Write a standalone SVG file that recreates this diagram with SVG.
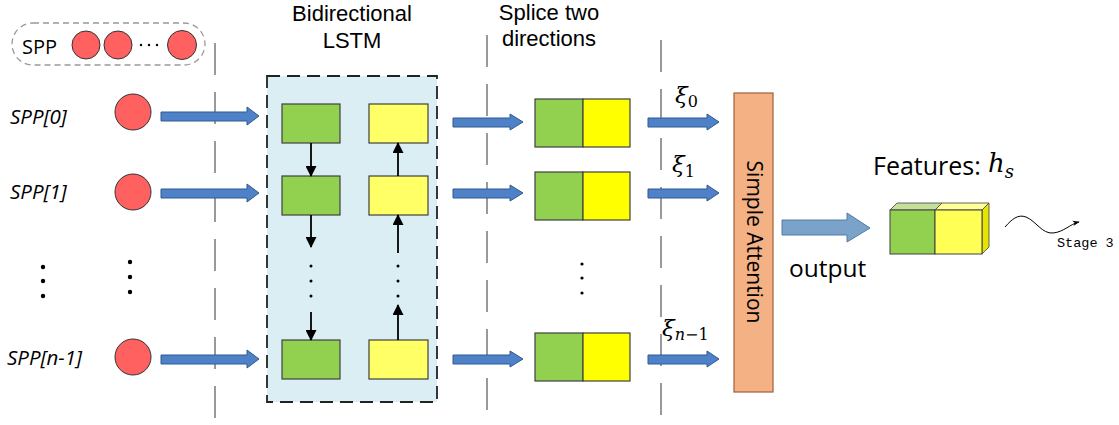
<svg xmlns="http://www.w3.org/2000/svg" width="1119" height="425" viewBox="0 0 1119 425">
<defs>
<style>
.lbl{font-family:"Open Sans","Liberation Sans",sans-serif;fill:#000}
.hdr{font-family:"Liberation Sans",Arial,sans-serif;fill:#000;font-size:22px}
.it{font-style:italic}
.math{font-family:"DejaVu Serif","Liberation Serif",serif;fill:#000}
.sep{stroke:#999;stroke-width:2;stroke-dasharray:32 17;fill:none}
.red{fill:#FF6161;stroke:#333;stroke-width:1}
.grn{fill:#92D050;stroke:#404040;stroke-width:1.2}
.yl1{fill:#FFFF66;stroke:#404040;stroke-width:1.2}
.yl2{fill:#FFFF00;stroke:#404040;stroke-width:1.2}
.barr{fill:#4F81C9;stroke:#2F5A8E;stroke-width:1}
.dot{fill:#000}
.vline{stroke:#000;stroke-width:1.8;fill:none}
</style>
<marker id="ah" viewBox="0 0 10 10" refX="9" refY="5" markerWidth="12" markerHeight="11" markerUnits="userSpaceOnUse" orient="auto">
<path d="M0,0 L10,5 L0,10 z" fill="#000"/>
</marker>
<marker id="ahs" viewBox="0 0 10 10" refX="9" refY="5" markerWidth="7" markerHeight="7" markerUnits="userSpaceOnUse" orient="auto">
<path d="M0,1 L10,5 L0,9 L3,5 z" fill="#000"/>
</marker>
</defs>
<rect width="1119" height="425" fill="#fff"/>

<!-- separators -->
<g id="separators">
<line class="sep" x1="215" y1="43" x2="215" y2="420"/>
<line class="sep" x1="487" y1="35" x2="487" y2="415"/>
<line class="sep" x1="661" y1="40" x2="661" y2="418"/>
</g>

<!-- headers -->
<g id="headers">
<text class="hdr" x="352" y="21" text-anchor="middle">Bidirectional</text>
<text class="hdr" x="352" y="48" text-anchor="middle">LSTM</text>
<text class="hdr" x="549" y="20" text-anchor="middle">Splice two</text>
<text class="hdr" x="549" y="46" text-anchor="middle">directions</text>
</g>

<!-- SPP legend -->
<g id="spp-legend">
<rect x="12" y="23" width="193" height="42" rx="21" ry="21" fill="none" stroke="#999" stroke-width="1.3" stroke-dasharray="6 4"/>
<text class="lbl" x="22" y="54" font-size="20">SPP</text>
<circle class="red" cx="86" cy="45" r="14"/>
<circle class="red" cx="118" cy="45" r="14"/>
<circle class="dot" cx="141" cy="45" r="1.2"/>
<circle class="dot" cx="149" cy="45" r="1.2"/>
<circle class="dot" cx="157" cy="45" r="1.2"/>
<circle class="red" cx="182" cy="45" r="14.5"/>
</g>

<!-- inputs -->
<g id="input-0">
<text class="lbl it" x="10" y="124" font-size="20.5">SPP[0]</text>
<circle class="red" cx="133" cy="112" r="18"/>
</g>
<g id="input-1">
<text class="lbl it" x="10" y="199" font-size="20.5">SPP[1]</text>
<circle class="red" cx="133" cy="192" r="18"/>
</g>
<g id="input-ellipsis">
<circle class="dot" cx="43" cy="267" r="2.2"/>
<circle class="dot" cx="43" cy="281" r="2.2"/>
<circle class="dot" cx="43" cy="296" r="2.2"/>
<circle class="dot" cx="130" cy="262" r="2.2"/>
<circle class="dot" cx="130" cy="277" r="2.2"/>
<circle class="dot" cx="130" cy="292" r="2.2"/>
</g>
<g id="input-n-1">
<text class="lbl it" x="7" y="365" font-size="20.5">SPP[n-1]</text>
<circle class="red" cx="133" cy="357" r="18"/>
</g>

<!-- LSTM block -->
<g id="lstm">
<rect x="267" y="76" width="170" height="326" fill="#DAEEF3" stroke="#222" stroke-width="1.8" stroke-dasharray="13 7"/>
<rect class="grn" x="282" y="104" width="58" height="39"/>
<rect class="yl1" x="369" y="104" width="59" height="39"/>
<rect class="grn" x="282" y="176" width="58" height="39"/>
<rect class="yl1" x="369" y="176" width="59" height="39"/>
<rect class="grn" x="282" y="340" width="58" height="39"/>
<rect class="yl1" x="369" y="340" width="59" height="39"/>
<circle class="dot" cx="311" cy="266" r="1.5"/>
<circle class="dot" cx="311" cy="281" r="1.5"/>
<circle class="dot" cx="311" cy="296" r="1.5"/>
<circle class="dot" cx="398" cy="266" r="1.5"/>
<circle class="dot" cx="398" cy="281" r="1.5"/>
<circle class="dot" cx="398" cy="296" r="1.5"/>
</g>

<!-- splice blocks -->
<g id="splice-0">
<rect class="grn" x="535" y="99" width="48" height="48"/>
<rect class="yl2" x="583" y="99" width="47" height="48"/>
</g>
<g id="splice-1">
<rect class="grn" x="535" y="172" width="48" height="48"/>
<rect class="yl2" x="583" y="172" width="47" height="48"/>
</g>
<g id="splice-ellipsis">
<circle class="dot" cx="582" cy="264" r="1.6"/>
<circle class="dot" cx="582" cy="278" r="1.6"/>
<circle class="dot" cx="582" cy="293" r="1.6"/>
</g>
<g id="splice-n-1">
<rect class="grn" x="535" y="333" width="48" height="48"/>
<rect class="yl2" x="583" y="333" width="47" height="48"/>
</g>

<!-- xi labels -->
<g id="xi-labels">
<text class="math" x="675" y="103" font-size="23" font-style="italic">ξ<tspan font-size="16" font-style="normal" dy="4">0</tspan></text>
<text class="math" x="672" y="172" font-size="23" font-style="italic">ξ<tspan font-size="16" font-style="normal" dy="5">1</tspan></text>
<text class="math" x="662" y="336" font-size="23" font-style="italic">ξ<tspan font-size="16" dy="4">n</tspan><tspan font-size="16" font-style="normal">−1</tspan></text>
</g>

<!-- attention -->
<g id="attention">
<rect x="734" y="93" width="39" height="299" fill="#F4B183" stroke="#A0603A" stroke-width="1.2"/>
<text class="lbl" transform="translate(754,242) rotate(90)" x="0" y="7" font-size="21" text-anchor="middle">Simple Attention</text>
</g>

<!-- output label -->
<g id="output-label">
<text class="lbl" x="789" y="277" font-size="24.5">output</text>
</g>

<!-- features -->
<g id="features">
<text class="lbl" x="873" y="175" font-size="25">Features:</text>
<text class="math" x="988" y="172" font-size="26" font-style="italic">h<tspan font-size="18" dy="6">s</tspan></text>
<polygon points="890,210 897,203 942,203 935,210" fill="#C4E09A" stroke="#404040" stroke-width="0.8"/>
<polygon points="935,210 942,203 989,203 982,210" fill="#FFFF99" stroke="#404040" stroke-width="0.8"/>
<polygon points="982,210 989,203 989,247 982,254" fill="#E5E500" stroke="#404040" stroke-width="0.8"/>
<rect x="890" y="210" width="45" height="44" fill="#92D050" stroke="#404040" stroke-width="1"/>
<rect x="935" y="210" width="47" height="44" fill="#FFFF55" stroke="#404040" stroke-width="1"/>
</g>

<!-- stage 3 -->
<g id="stage3">
<text x="1057" y="247" font-family="Liberation Mono, DejaVu Sans Mono, monospace" font-size="13.5" fill="#000">Stage 3</text>
</g>

<!-- connectors -->
<g id="connectors">
<path class="barr" d="M161,112 H247 V107 L259,116 L247,125 V121 H161 Z"/>
<path class="barr" d="M161,189 H247 V184 L259,193 L247,202 V198 H161 Z"/>
<path class="barr" d="M161,355 H247 V350 L259,359 L247,368 V364 H161 Z"/>
<path class="barr" d="M453,118 H510 V114 L523,122 L510,130 V127 H453 Z"/>
<path class="barr" d="M453,189 H510 V185 L523,193 L510,201 V198 H453 Z"/>
<path class="barr" d="M453,355 H510 V351 L523,359 L510,367 V364 H453 Z"/>
<path class="barr" d="M648,118 H707 V114 L719,122 L707,130 V127 H648 Z"/>
<path class="barr" d="M648,189 H707 V185 L719,193 L707,201 V198 H648 Z"/>
<path class="barr" d="M648,355 H707 V351 L719,359 L707,367 V364 H648 Z"/>
<path d="M782,220 H847 V213 L870,228 L847,242 V235 H782 Z" fill="#7BA3C9" stroke="#4F7CA6" stroke-width="1"/>
<line class="vline" x1="311" y1="143" x2="311" y2="176" marker-end="url(#ah)"/>
<line class="vline" x1="311" y1="215" x2="311" y2="247" marker-end="url(#ah)"/>
<line class="vline" x1="311" y1="312" x2="311" y2="340" marker-end="url(#ah)"/>
<line class="vline" x1="398" y1="176" x2="398" y2="143" marker-end="url(#ah)"/>
<line class="vline" x1="398" y1="253" x2="398" y2="215" marker-end="url(#ah)"/>
<line class="vline" x1="398" y1="340" x2="398" y2="305" marker-end="url(#ah)"/>
<path d="M1005,227 C1012,219 1018,214 1026,217 C1036,221 1042,234 1053,233 C1064,232 1070,224 1079,222" fill="none" stroke="#000" stroke-width="1" marker-end="url(#ahs)"/>
</g>
</svg>
